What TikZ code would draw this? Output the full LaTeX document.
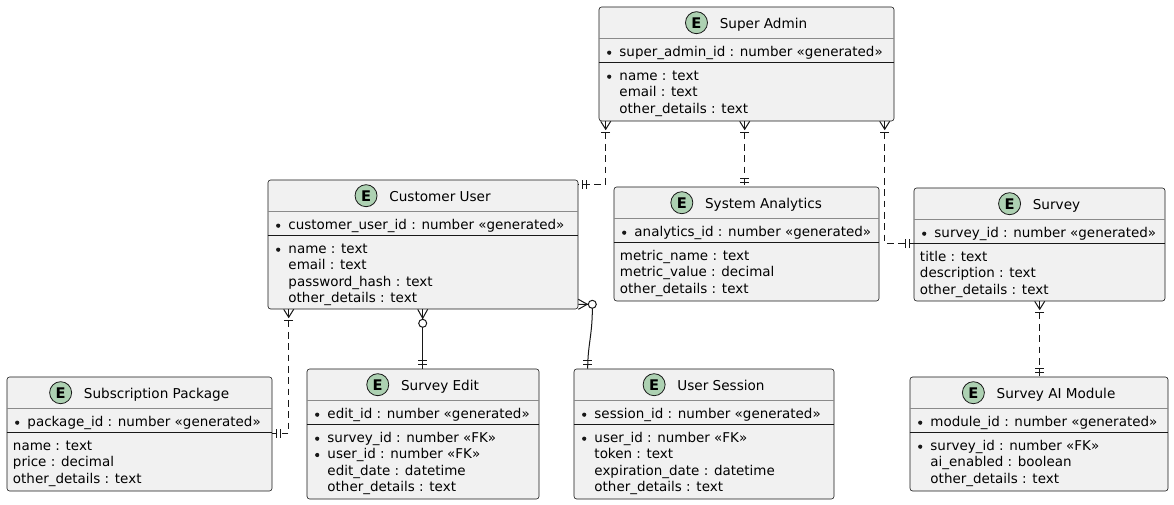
\documentclass[tikz,border=0pt]{standalone}
\usepackage{fontspec}
\setmainfont{DejaVu Sans}
\usetikzlibrary{calc,fit}
\definecolor{entfill}{HTML}{F1F1F1}
\definecolor{entline}{HTML}{181818}
\definecolor{ecfill}{HTML}{ADD1B2}
\definecolor{hsepc}{HTML}{8A8A8A}
\newcounter{rwc}
\tikzset{
  ent/.style={draw=entline, line width=0.45pt, fill=entfill, rounded corners=2pt, inner sep=0pt},
  ttl/.style={anchor=base, inner sep=0pt, font=\fontsize{10.2pt}{12pt}\selectfont},
  ecirc/.style={circle, draw=entline, fill=ecfill, line width=0.6pt, minimum size=16.5pt, inner sep=0pt, font=\fontsize{11pt}{12pt}\selectfont\bfseries},
  rtxt/.style={anchor=base west, inner sep=0pt, font=\fontsize{10.1pt}{12pt}\selectfont},
  hsep/.style={draw=hsepc, line width=0.5pt},
  asep/.style={draw=entline, line width=0.6pt},
  rel/.style={draw=entline, line width=0.75pt},
  reld/.style={rel, dash pattern=on 5pt off 3.5pt},
  deco/.style={draw=entline, line width=0.75pt},
}
% entity: name, corner1, corner2, title
\newcommand{\ent}[4]{%
  \node[ent, fit={(#2) (#3)}] (#1) {};
  \node[ttl] (#1t) at ($(#1.north)+(17,22)$) {#4};
  \node[ecirc] (#1e) at ($(#1t.base west)+(-23,-6)$) {E};
  \draw[hsep] ($(#1.north west)+(0,32)$) -- ($(#1.north east)+(0,32)$);
  \draw[asep] ($(#1.north west)+(0,56)$) -- ($(#1.north east)+(0,56)$);}
% row text: node, x offset, baseline y offset, text
\newcommand{\rowt}[4]{\stepcounter{rwc}%
  \node[rtxt] (rw\therwc) at ($(#1.north west)+(#2,#3)$) {#4};}
% bullet: node, baseline y offset
\newcommand{\bul}[2]{\fill[entline] ($(#1.north west)+(10.5,#2-4)$) circle (2.1);}
% crow's foot decorations: coordinate, direction angle (pointing away from box)
\newcommand{\cfmany}[2]{\begin{scope}[shift={(#1)},rotate=#2]
  \draw[deco] (0,-5) -- (8,0) -- (0,5); \draw[deco] (11,-4.5) -- (11,4.5);\end{scope}}
\newcommand{\cfone}[2]{\begin{scope}[shift={(#1)},rotate=#2]
  \draw[deco] (4,-4.5) -- (4,4.5); \draw[deco] (8,-4.5) -- (8,4.5);\end{scope}}
\newcommand{\cfzero}[2]{\begin{scope}[shift={(#1)},rotate=#2]
  \draw[deco] (0,-5) -- (9,0) -- (0,5); \draw[deco,fill=white] (14,0) circle (4);\end{scope}}
\begin{document}
\begin{tikzpicture}[x=0.75pt,y=-0.75pt]
\fill[white] (0,0) rectangle (1174,505);
\useasboundingbox (0,0) rectangle (1174,505);

% Super Admin
\ent{sa}{599,7}{894,121}{Super Admin}
\bul{sa}{50}\rowt{sa}{20.5}{50}{super\_admin\_id : number «generated»}
\bul{sa}{74}\rowt{sa}{20.5}{74}{name : text}
\rowt{sa}{20.5}{90.3}{email : text}
\rowt{sa}{20.5}{106.6}{other\_details : text}

% Customer User
\ent{cu}{268,180}{578,309}{Customer User}
\bul{cu}{50}\rowt{cu}{20.5}{50}{customer\_user\_id : number «generated»}
\bul{cu}{74}\rowt{cu}{20.5}{74}{name : text}
\rowt{cu}{20.5}{90.3}{email : text}
\rowt{cu}{20.5}{106.6}{password\_hash : text}
\rowt{cu}{20.5}{122.9}{other\_details : text}

% System Analytics
\ent{an}{614,187}{879,301}{System Analytics}
\bul{an}{50}\rowt{an}{20.5}{50}{analytics\_id : number «generated»}
\rowt{an}{6}{74}{metric\_name : text}
\rowt{an}{6}{90.3}{metric\_value : decimal}
\rowt{an}{6}{106.6}{other\_details : text}

% Survey
\ent{sv}{914,188}{1165,301}{Survey}
\bul{sv}{50}\rowt{sv}{20.5}{50}{survey\_id : number «generated»}
\rowt{sv}{6}{74}{title : text}
\rowt{sv}{6}{90.3}{description : text}
\rowt{sv}{6}{106.6}{other\_details : text}

% Subscription Package
\ent{sp}{7,377}{272,491}{Subscription Package}
\bul{sp}{50}\rowt{sp}{20.5}{50}{package\_id : number «generated»}
\rowt{sp}{6}{74}{name : text}
\rowt{sp}{6}{90.3}{price : decimal}
\rowt{sp}{6}{106.6}{other\_details : text}

% Survey Edit
\ent{se}{307,369}{539,499}{Survey Edit}
\bul{se}{50}\rowt{se}{20.5}{50}{edit\_id : number «generated»}
\bul{se}{74}\rowt{se}{20.5}{74}{survey\_id : number «FK»}
\bul{se}{90.3}\rowt{se}{20.5}{90.3}{user\_id : number «FK»}
\rowt{se}{20.5}{106.6}{edit\_date : datetime}
\rowt{se}{20.5}{122.9}{other\_details : text}

% User Session
\ent{us}{574,369}{834,499}{User Session}
\bul{us}{50}\rowt{us}{20.5}{50}{session\_id : number «generated»}
\bul{us}{74}\rowt{us}{20.5}{74}{user\_id : number «FK»}
\rowt{us}{20.5}{90.3}{token : text}
\rowt{us}{20.5}{106.6}{expiration\_date : datetime}
\rowt{us}{20.5}{122.9}{other\_details : text}

% Survey AI Module
\ent{ai}{910,377}{1168,491}{Survey AI Module}
\bul{ai}{50}\rowt{ai}{20.5}{50}{module\_id : number «generated»}
\bul{ai}{74}\rowt{ai}{20.5}{74}{survey\_id : number «FK»}
\rowt{ai}{20.5}{90.3}{ai\_enabled : boolean}
\rowt{ai}{20.5}{106.6}{other\_details : text}

% attachment points
\coordinate (a1) at ($(sa.south west)+(7,0)$);
\coordinate (b1) at ($(cu.north east)+(0,5)$);
\coordinate (a2) at ($(sa.south west)+(146,0)$);
\coordinate (b2) at ($(an.north west)+(131,0)$);
\coordinate (a3) at ($(sa.south west)+(286,0)$);
\coordinate (b3) at ($(sv.north west)+(0,56)$);
\coordinate (a4) at ($(cu.south west)+(21,0)$);
\coordinate (b4) at ($(sp.north east)+(0,57)$);
\coordinate (a5) at ($(cu.south west)+(155,0)$);
\coordinate (b5) at ($(se.north west)+(116,0)$);
\coordinate (a6) at ($(cu.south east)+(0,-5)$);
\coordinate (c6) at ($(a6)+(14,0)$);
\coordinate (b6) at ($(us.north west)+(14,0)$);
\coordinate (a7) at ($(sv.south west)+(126,0)$);
\coordinate (b7) at ($(ai.north west)+(130,0)$);

% connectors
\draw[reld] (a1) |- (b1);
\draw[reld] (a2) -- (b2);
\draw[reld] (a3) |- (b3);
\draw[reld] (a4) |- (b4);
\draw[rel] (a5) -- (b5);
\draw[rel] (a6) -- (c6) .. controls ($(c6)+(0.5,30)$) and ($(b6)+(0,-25)$) .. (b6);
\draw[reld] (a7) -- (b7);

% decorations
\cfmany{a1}{-90}\cfone{b1}{0}
\cfmany{a2}{-90}\cfone{b2}{90}
\cfmany{a3}{-90}\cfone{b3}{180}
\cfmany{a4}{-90}\cfone{b4}{0}
\cfzero{a5}{-90}\cfone{b5}{90}
\cfzero{a6}{0}\cfone{b6}{90}
\cfmany{a7}{-90}\cfone{b7}{90}
\end{tikzpicture}
\end{document}
